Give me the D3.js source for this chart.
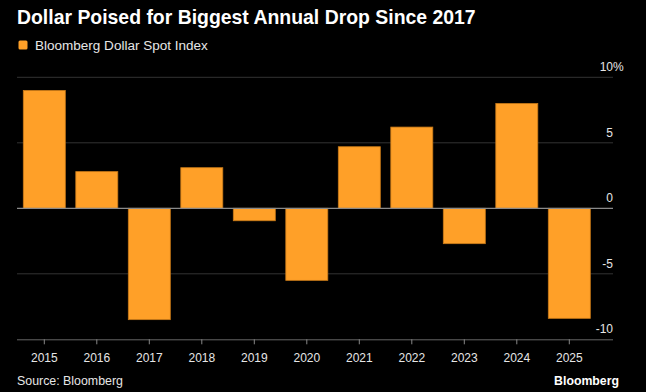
<!DOCTYPE html>
<html><head><meta charset="utf-8">
<script src="https://cdn.jsdelivr.net/npm/d3@7/dist/d3.min.js"></script>
<style>html,body{margin:0;padding:0;background:#000;}svg{display:block;}</style>
</head><body>
<svg id="c" width="646" height="392"></svg>
<script>
const years = ["2015","2016","2017","2018","2019","2020","2021","2022","2023","2024","2025"];
const values = [9.0, 2.8, -8.5, 3.1, -0.95, -5.5, 4.7, 6.2, -2.7, 8.0, -8.4];
const yTicks = [-10, -5, 0, 5, 10];
const yTickLabels = ["-10", "-5", "0", "5", "10"];

const svg = d3.select("#c");
svg.append("rect").attr("width",646).attr("height",392).attr("fill","#000");
const font = "'Liberation Sans', Arial, sans-serif";

function fit(sel, w){
  const n = sel.node();
  const cur = n.getComputedTextLength();
  const fs = parseFloat(sel.attr("font-size"));
  sel.attr("font-size", (fs*w/cur).toFixed(2));
}

const x = d3.scaleBand().domain(years).range([18.05, 595.55]).paddingInner(0.2).paddingOuter(0.1);
const y = d3.scaleLinear().domain([-10, 10]).range([339.3, 77.3]);

// gridlines
svg.append("g").selectAll("line").data(yTicks.filter(d=>d!==0 && d!==-10)).join("line")
  .attr("x1",17).attr("x2",613).attr("y1",d=>y(d)).attr("y2",d=>y(d))
  .attr("stroke","#333").attr("stroke-width",1);

// y labels
const yl = svg.append("g").attr("font-family",font).attr("font-size",12).attr("fill","#e6e6e6");
yTicks.forEach((t,i)=>{
  yl.append("text").attr("x",613).attr("y",y(t)-6).attr("text-anchor","end").text(yTickLabels[i]);
});
yl.append("text").attr("x",613).attr("y",y(10)-6).text("%");

// bars
svg.append("g").selectAll("rect").data(years).join("rect")
  .attr("x",d=>x(d)).attr("width",x.bandwidth())
  .attr("y",(d,i)=>y(Math.max(0,values[i])))
  .attr("height",(d,i)=>Math.abs(y(values[i])-y(0)))
  .attr("fill","#ffa028").attr("stroke","#c97a18").attr("stroke-width",0.8);

// zero line
svg.append("line").attr("x1",17).attr("x2",613).attr("y1",y(0)).attr("y2",y(0))
  .attr("stroke","#8a8a8a").attr("stroke-width",1.2);

// x axis
const xa = svg.append("g").attr("transform",`translate(0,${y(-10)})`)
  .call(d3.axisBottom(x).tickSize(5).tickSizeOuter(0));
xa.select(".domain").attr("stroke","#666").attr("d","M17,0.5H613");
xa.selectAll(".tick line").attr("stroke","#888");
xa.selectAll(".tick text").attr("fill","#e6e6e6").attr("font-family",font).attr("font-size",12).attr("dy","1.25em");

// title
const title = svg.append("text").attr("x",17).attr("y",24).attr("fill","#fff")
  .attr("font-family",font).attr("font-weight","bold").attr("font-size",18)
  .text("Dollar Poised for Biggest Annual Drop Since 2017");
fit(title, 459);

// legend
svg.append("rect").attr("x",18.5).attr("y",40.5).attr("width",9).attr("height",9).attr("rx",1.5)
  .attr("fill","#ffa028");
const lg = svg.append("text").attr("x",35).attr("y",50).attr("fill","#e6e6e6")
  .attr("font-family",font).attr("font-size",13).text("Bloomberg Dollar Spot Index");
fit(lg, 173);

// footer
const src = svg.append("text").attr("x",17).attr("y",385).attr("fill","#e6e6e6")
  .attr("font-family",font).attr("font-size",12).text("Source: Bloomberg");
fit(src, 106);
const bb = svg.append("text").attr("x",619).attr("y",385).attr("text-anchor","end").attr("fill","#fff")
  .attr("font-family",font).attr("font-weight","bold").attr("font-size",12).text("Bloomberg");
fit(bb, 65);
</script>
</body></html>
